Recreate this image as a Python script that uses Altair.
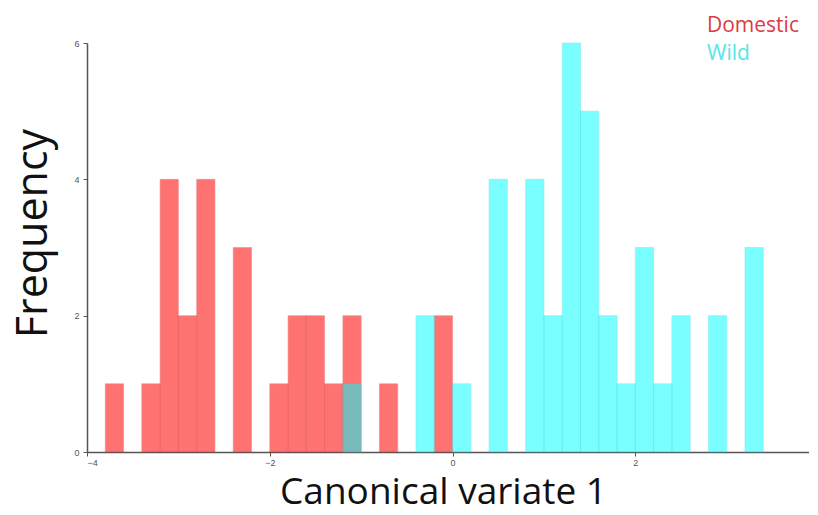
import altair as alt
import pandas as pd

# Histogram bins (bin width 0.2), left edges and counts
domestic_starts = [-3.8, -3.4, -3.2, -3.0, -2.8, -2.4, -2.0, -1.8, -1.6, -1.4, -1.2, -0.8, -0.2]
domestic_counts = [1, 1, 4, 2, 4, 3, 1, 2, 2, 1, 2, 1, 2]

wild_starts = [-1.2, -0.4, 0.0, 0.4, 0.8, 1.0, 1.2, 1.4, 1.6, 1.8, 2.0, 2.2, 2.4, 2.8, 3.2]
wild_counts = [1, 2, 1, 4, 4, 2, 6, 5, 2, 1, 3, 1, 2, 2, 3]

bin_width = 0.2
x_ticks = [-4, -2, 0, 2]
y_ticks = [0, 2, 4, 6]
groups = ["Domestic", "Wild"]

dom = pd.DataFrame({"start": domestic_starts, "count": domestic_counts})
dom["end"] = dom["start"] + bin_width
wild = pd.DataFrame({"start": wild_starts, "count": wild_counts})
wild["end"] = wild["start"] + bin_width

xscale = alt.Scale(domain=[-4, 3.9], nice=False, zero=False)
yscale = alt.Scale(domain=[0, 6], nice=False)

xaxis = alt.Axis(values=x_ticks, format="d", title="Canonical variate 1", grid=False,
                 labelFontSize=9, labelColor="#555", tickColor="#555", tickSize=4,
                 domainColor="#555", domainWidth=1.5, titleFontSize=37,
                 titleFont="Open Sans", titleFontWeight="normal", titleColor="#111",
                 titlePadding=7, labelPadding=2, titleX=356)
yaxis = alt.Axis(values=y_ticks, format="d", title="Frequency", grid=False,
                 labelFontSize=9, labelColor="#555", tickColor="#555", tickSize=4,
                 domainColor="#555", domainWidth=1.5, titleFontSize=43,
                 titleFont="Open Sans", titleFontWeight="normal", titleColor="#111",
                 titlePadding=18, labelPadding=4, titleY=190)

dom_bars = alt.Chart(dom).mark_bar(
    color="#ff0000", opacity=0.55, stroke="#d83030", strokeWidth=1, strokeOpacity=0.6
).encode(
    x=alt.X("start:Q", scale=xscale, axis=xaxis),
    x2="end:Q",
    y=alt.Y("count:Q", scale=yscale, axis=yaxis),
    y2=alt.datum(0),
)

wild_bars = alt.Chart(wild).mark_bar(
    color="#00ffff", opacity=0.52, stroke="#20d8d8", strokeWidth=1, strokeOpacity=0.6
).encode(
    x=alt.X("start:Q", scale=xscale),
    x2="end:Q",
    y=alt.Y("count:Q", scale=yscale),
    y2=alt.datum(0),
)

legend_dom = alt.Chart(pd.DataFrame({"name": [groups[0]]})).mark_text(
    align="left", baseline="alphabetic", fontSize=21, font="Open Sans", color="#dc3a44"
).encode(text="name:N", x=alt.value(620), y=alt.value(-11))

legend_wild = alt.Chart(pd.DataFrame({"name": [groups[1]]})).mark_text(
    align="left", baseline="alphabetic", fontSize=21, font="Open Sans", color="#55e6e6"
).encode(text="name:N", x=alt.value(620), y=alt.value(17))

chart = alt.layer(dom_bars, wild_bars, legend_dom, legend_wild).properties(
    width=722, height=409,
    background="white",
    autosize=alt.AutoSizeParams(type="none"),
    padding={"left": 79, "top": 35, "right": 0, "bottom": 63},
).configure_view(stroke=None)

chart.save("out.html", embed_options={"renderer": "svg", "actions": False})
